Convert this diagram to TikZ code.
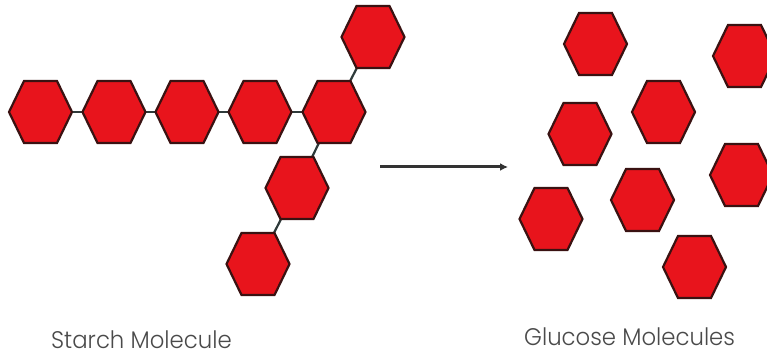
\documentclass[tikz,border=0pt]{standalone}
\usepackage{fontspec}
\usetikzlibrary{arrows.meta,calc}
\IfFontExistsTF{Poppins Light}
  {\newfontfamily\lblfont[FakeStretch=0.95]{Poppins Light}}
  {\newfontfamily\lblfont[FakeStretch=0.95]{Poppins}}
\definecolor{hexfill}{HTML}{E8141C}
\definecolor{hexline}{HTML}{3A1212}
\definecolor{bondcol}{HTML}{2E3A3A}
\definecolor{arrowcol}{HTML}{333333}
\definecolor{textcol}{HTML}{4A4A4A}
\tikzset{
  hexstyle/.style={fill=hexfill,draw=hexline,line width=2.2pt,line join=miter},
  hex/.pic={\path[hexstyle] (-31.5,0) -- (-16.5,-31) -- (16.5,-31) -- (31.5,0) -- (16.5,31) -- (-16.5,31) -- cycle;},
  bond/.style={draw=bondcol,line width=2.2pt},
  arrowline/.style={draw=arrowcol,line width=3pt,-{Latex[length=8pt,width=8pt]}},
  lbl/.style={anchor=base west,inner sep=0pt,text=textcol,font=\lblfont\fontsize{24}{28}\selectfont}
}
\begin{document}
\begin{tikzpicture}[x=1pt,y=-1pt]
\useasboundingbox (0,0) rectangle (767,355);
\clip (0,0) rectangle (767,355);
\fill[white] (0,0) rectangle (767,355);
% starch centres
\coordinate (s1) at (40.5,112);
\coordinate (s2) at (114,112);
\coordinate (s3) at (187,112);
\coordinate (s4) at (260,112);
\coordinate (s5) at (334,112);
\coordinate (s6) at (373,37);
\coordinate (s7) at (297,188);
\coordinate (s8) at (258,264);
% glucose centres
\coordinate (g1) at (595.5,44);
\coordinate (g2) at (744.5,56);
\coordinate (g3) at (663.5,112);
\coordinate (g4) at (580,134);
\coordinate (g5) at (741.5,175);
\coordinate (g6) at (642.5,200);
\coordinate (g7) at (551,219);
\coordinate (g8) at (694.5,267);
% bonds
\draw[bond] (s1) -- (s2) -- (s3) -- (s4) -- (s5);
\draw[bond] (s5) -- (s6);
\draw[bond] (s5) -- (s7) -- (s8);
% hexagons
\foreach \c in {s1,s2,s3,s4,s5,s6,s7,s8,g1,g2,g3,g4,g5,g6,g7,g8}
  \pic at (\c) {hex};
% arrow
\coordinate (a1) at (380,167);
\coordinate (a2) at (508,167);
\draw[arrowline] (a1) -- (a2);
% labels
\node[lbl] (t1) at (51,348) {Starch Molecule};
\node[lbl] (t2) at (524,345) {Glucose Molecules};
\end{tikzpicture}
\end{document}
